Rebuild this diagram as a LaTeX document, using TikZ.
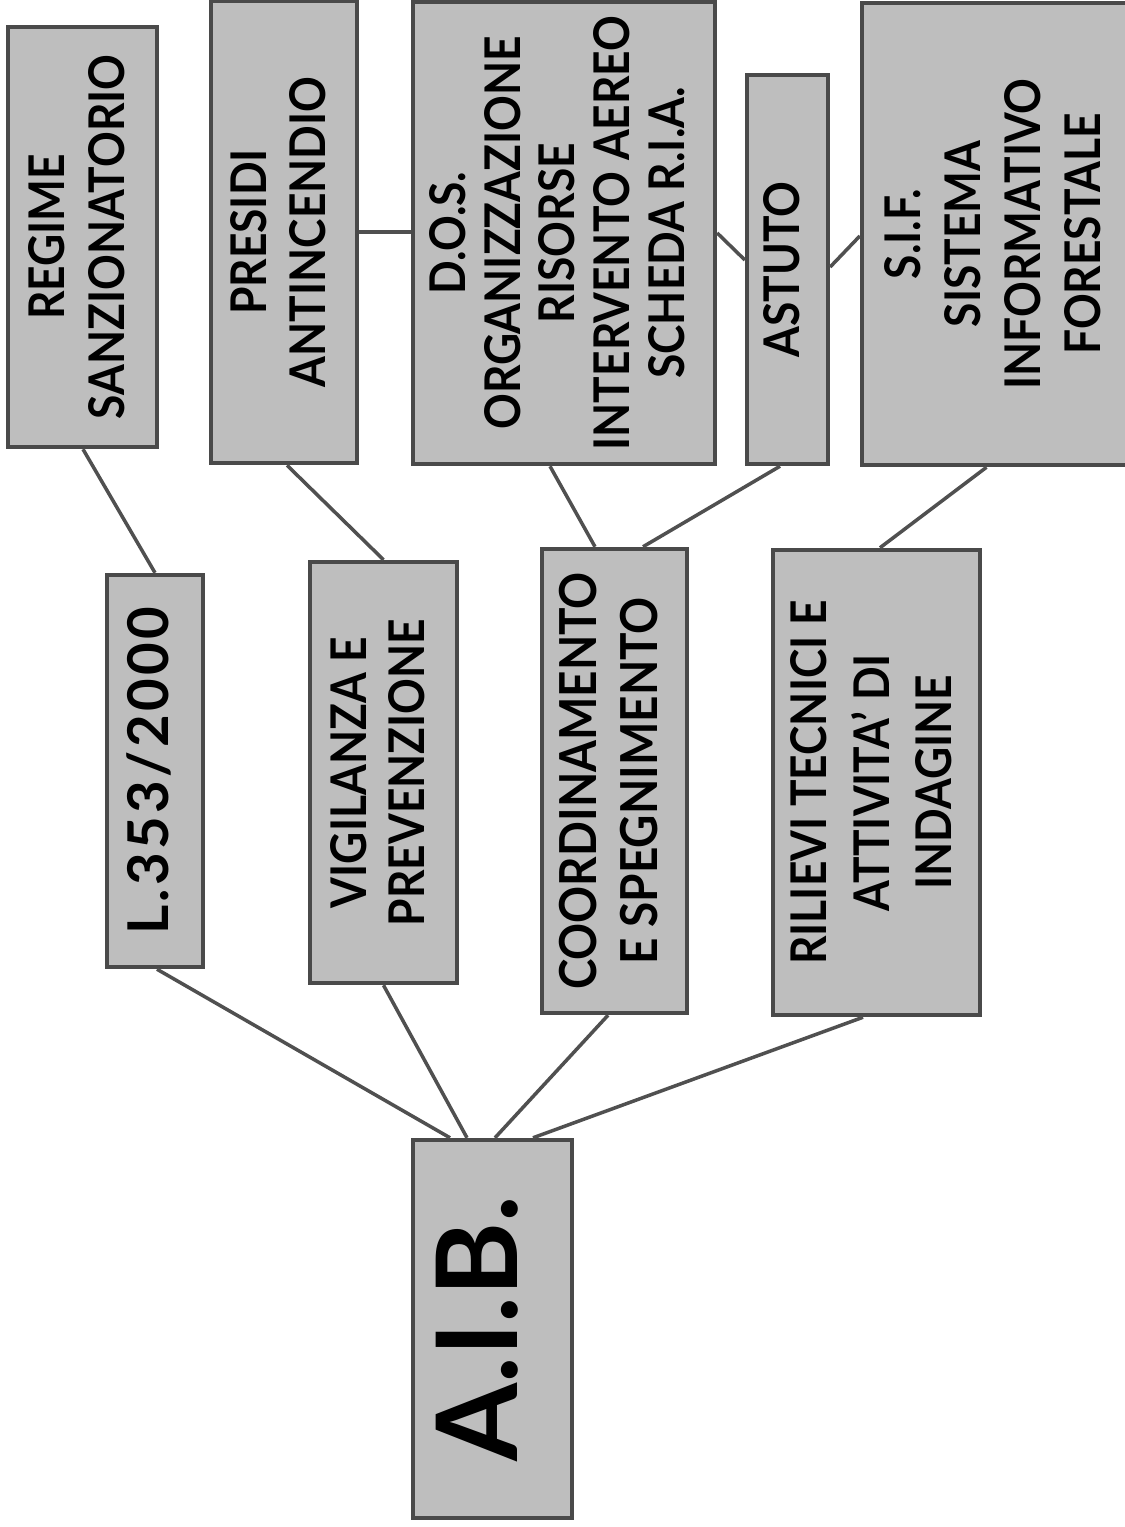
\documentclass[tikz,border=0pt]{standalone}
\usepackage{fontspec}
\setmainfont{Lato}
\newfontfamily\narrowfont{Lato}[FakeStretch=0.9]
\newfontfamily\spacedfont{Lato}[LetterSpace=6]
\usepackage{graphicx}
\usetikzlibrary{calc}
\definecolor{boxgray}{HTML}{BEBEBE}
\definecolor{bordergray}{HTML}{4A4A4A}
\definecolor{linegray}{HTML}{505050}
\newcommand\vtext[3]{\rotatebox{90}{\narrowfont\fontsize{#1}{#2}\selectfont\bfseries\begin{tabular}{@{}c@{}}#3\end{tabular}}}
\newcommand\vbig[3]{\rotatebox{90}{\fontsize{#1}{#2}\selectfont\bfseries\begin{tabular}{@{}c@{}}#3\end{tabular}}}
\newcommand\vspaced[3]{\rotatebox{90}{\spacedfont\fontsize{#1}{#2}\selectfont\bfseries\begin{tabular}{@{}c@{}}#3\end{tabular}}}
\tikzset{
  box/.style={draw=bordergray, fill=boxgray, line width=1.2pt, inner sep=0pt, text=black},
  conn/.style={draw=linegray, line width=1pt}
}
\begin{document}
\begin{tikzpicture}[x=0.01cm,y=-0.01cm]
\useasboundingbox (0,0) rectangle (1125,1527);
\node[box, minimum width=1.59cm, minimum height=3.78cm] (aib) at (492.5,1329) {\vbig{32}{36}{A.I.B.}};
\node[box, minimum width=0.96cm, minimum height=3.92cm] (l353) at (155,771) {\vspaced{16}{19}{L.353/2000}};
\node[box, minimum width=1.47cm, minimum height=4.21cm] (vig) at (383.5,772.5) {\vtext{14}{16.5}{VIGILANZA E\\PREVENZIONE}};
\node[box, minimum width=1.45cm, minimum height=4.64cm] (coord) at (614.5,781) {\vtext{14.5}{17.5}{COORDINAMENTO\\E SPEGNIMENTO}};
\node[box, minimum width=2.07cm, minimum height=4.65cm] (ril) at (876.5,782.5) {\vtext{14}{17.8}{RILIEVI TECNICI E\\ATTIVITA’ DI\\INDAGINE}};
\node[box, minimum width=1.49cm, minimum height=4.20cm] (regime) at (82.5,237) {\vtext{14}{17}{REGIME\\SANZIONATORIO}};
\node[box, minimum width=1.46cm, minimum height=4.62cm] (presidi) at (284,232) {\vtext{14}{17}{PRESIDI\\ANTINCENDIO}};
\node[box, minimum width=3.02cm, minimum height=4.62cm] (dos) at (564,233) {\vtext{14}{15.6}{D.O.S.\\ORGANIZZAZIONE\\RISORSE\\INTERVENTO AEREO\\SCHEDA R.I.A.}};
\node[box, minimum width=0.81cm, minimum height=3.89cm] (astuto) at (787.5,269.5) {\vtext{14}{17}{ASTUTO}};
\node[box, minimum width=2.73cm, minimum height=4.62cm] (sif) at (998.5,234) {\vtext{14}{17}{S.I.F.\\SISTEMA\\INFORMATIVO\\FORESTALE}};
\draw[conn] ($(regime.south)+(0.5,0)$) -- (l353.north);
\draw[conn] ($(presidi.south)+(3,0)$) -- (vig.north);
\draw[conn] (presidi.east) -- (presidi.east -| dos.west);
\draw[conn] ($(dos.south)+(-14,0)$) -- ($(coord.north)+(-19.5,0)$);
\draw[conn] ($(astuto.south)+(-7.5,0)$) -- ($(coord.north)+(28.5,0)$);
\draw[conn] (dos.east) -- ($(astuto.west)+(0,-9.5)$);
\draw[conn] ($(astuto.east)+(0,-2.5)$) -- ($(sif.west)+(0,2)$);
\draw[conn] ($(sif.south)+(-12,0)$) -- ($(ril.north)+(3.5,0)$);
\draw[conn] ($(l353.south)+(2,0)$) -- ($(aib.north)+(-42.5,0)$);
\draw[conn] (vig.south) -- ($(aib.north)+(-25.5,0)$);
\draw[conn] ($(coord.south)+(-6.5,0)$) -- ($(aib.north)+(2.5,0)$);
\draw[conn] ($(ril.south)+(-13.5,0)$) -- ($(aib.north)+(40.5,0)$);
\end{tikzpicture}
\end{document}
